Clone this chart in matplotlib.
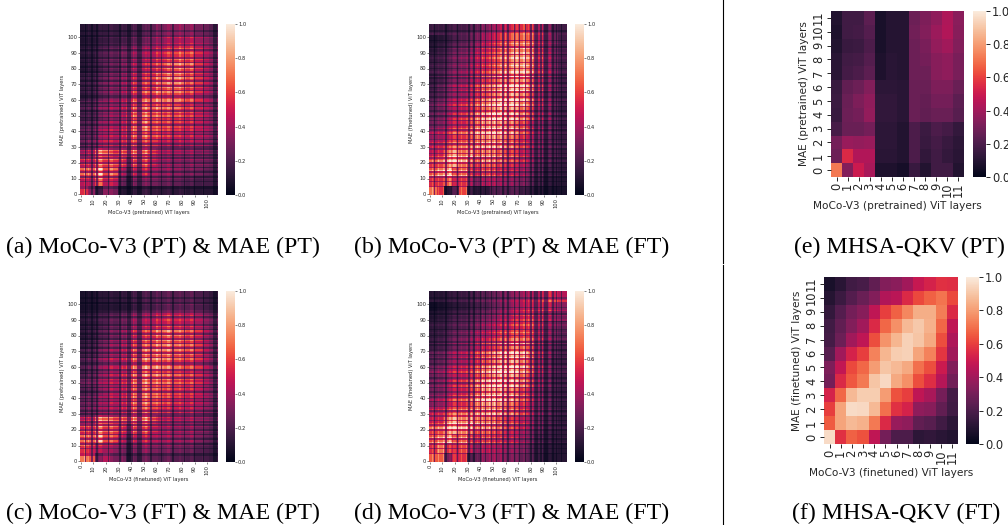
import numpy as np
import matplotlib
matplotlib.use("Agg")
import matplotlib.pyplot as plt
from matplotlib.lines import Line2D
import seaborn as sns

# 12 x 12 layer similarity, row 0 (bottom) first
qkv_pt = [
 [.72,.33,.50,.42,.08,.08,.06,.15,.09,.17,.17,.09],
 [.28,.55,.44,.44,.11,.11,.09,.20,.13,.17,.14,.11],
 [.30,.38,.37,.38,.12,.12,.09,.20,.15,.18,.15,.12],
 [.19,.27,.27,.30,.12,.12,.09,.20,.16,.20,.18,.14],
 [.15,.28,.30,.37,.13,.13,.11,.27,.25,.27,.27,.23],
 [.16,.27,.32,.36,.13,.13,.11,.27,.26,.30,.30,.24],
 [.15,.25,.28,.33,.12,.12,.11,.27,.27,.32,.32,.27],
 [.11,.18,.20,.24,.08,.11,.10,.28,.28,.34,.36,.31],
 [.11,.17,.18,.22,.08,.11,.10,.28,.30,.34,.36,.31],
 [.09,.15,.16,.20,.07,.10,.10,.28,.31,.37,.40,.33],
 [.08,.17,.18,.22,.07,.10,.10,.29,.33,.39,.44,.34],
 [.09,.17,.17,.24,.07,.10,.10,.28,.32,.36,.43,.35]]
qkv_ft = [
 [.96,.57,.67,.64,.47,.30,.20,.20,.12,.13,.11,.09],
 [.66,.82,.87,.85,.72,.55,.38,.36,.25,.23,.17,.12],
 [.60,.82,.96,.95,.87,.70,.57,.53,.36,.34,.25,.17],
 [.53,.68,.87,.92,.92,.80,.64,.60,.47,.42,.30,.18],
 [.30,.55,.65,.72,.90,.95,.83,.77,.63,.56,.45,.29],
 [.32,.48,.62,.68,.80,.90,.87,.83,.70,.63,.50,.33],
 [.23,.40,.53,.60,.74,.86,.92,.93,.82,.74,.58,.40],
 [.18,.28,.40,.47,.63,.78,.86,.93,.90,.83,.63,.43],
 [.17,.25,.33,.40,.55,.68,.77,.87,.91,.85,.68,.47],
 [.14,.22,.30,.34,.47,.60,.67,.75,.84,.84,.73,.55],
 [.10,.16,.22,.27,.33,.44,.46,.55,.62,.67,.71,.62],
 [.07,.11,.17,.19,.25,.33,.35,.40,.49,.53,.57,.56]]

# all-layer similarity, read as 18 x 18 blocks, bottom row first
all_a = [
 [.55,.35,.15,.35,.30,.10,.08,.13,.15,.13,.12,.13,.12,.13,.10,.10,.10,.10],
 [.45,.42,.60,.45,.45,.25,.15,.30,.30,.30,.25,.25,.25,.22,.20,.18,.18,.18],
 [.55,.55,.70,.50,.55,.35,.25,.40,.42,.35,.30,.30,.30,.27,.25,.25,.22,.20],
 [.45,.45,.60,.55,.55,.50,.40,.55,.55,.45,.35,.33,.33,.30,.30,.30,.28,.25],
 [.35,.40,.62,.62,.50,.55,.55,.62,.60,.50,.38,.35,.37,.33,.33,.30,.30,.25],
 [.22,.27,.33,.42,.38,.42,.50,.52,.50,.47,.40,.38,.38,.38,.35,.35,.33,.28],
 [.20,.22,.30,.38,.37,.40,.50,.57,.58,.52,.50,.45,.45,.42,.40,.38,.35,.30],
 [.18,.20,.27,.33,.33,.37,.48,.55,.60,.52,.50,.48,.48,.45,.42,.40,.35,.30],
 [.15,.17,.22,.30,.30,.35,.48,.58,.60,.55,.55,.50,.52,.50,.45,.42,.37,.30],
 [.18,.20,.27,.32,.33,.38,.48,.57,.60,.57,.60,.55,.60,.50,.47,.42,.38,.32],
 [.12,.15,.20,.27,.28,.33,.42,.50,.55,.55,.60,.55,.60,.55,.50,.45,.38,.32],
 [.13,.15,.20,.27,.27,.32,.40,.47,.50,.50,.57,.58,.63,.58,.50,.47,.40,.33],
 [.12,.14,.18,.25,.25,.30,.37,.43,.47,.50,.57,.60,.65,.60,.52,.47,.40,.33],
 [.09,.12,.15,.22,.22,.27,.33,.38,.42,.47,.50,.55,.62,.60,.55,.47,.40,.33],
 [.10,.12,.17,.22,.22,.27,.30,.35,.38,.42,.47,.50,.55,.57,.52,.47,.40,.33],
 [.10,.12,.15,.20,.20,.25,.27,.33,.35,.38,.43,.47,.50,.52,.50,.45,.38,.32],
 [.08,.10,.12,.15,.15,.17,.20,.23,.25,.30,.33,.38,.40,.40,.40,.37,.33,.27],
 [.10,.12,.13,.15,.15,.15,.17,.20,.22,.25,.30,.33,.35,.35,.33,.30,.27,.22]]
all_b = [
 [.70,.55,.10,.20,.60,.15,.10,.12,.20,.20,.20,.20,.15,.12,.10,.07,.07,.07],
 [.55,.55,.65,.45,.55,.40,.30,.42,.42,.38,.35,.30,.30,.22,.18,.12,.12,.10],
 [.62,.70,.80,.55,.65,.50,.45,.55,.52,.45,.42,.38,.35,.27,.22,.15,.15,.12],
 [.55,.60,.72,.75,.68,.60,.55,.65,.62,.55,.50,.45,.42,.32,.25,.20,.17,.14],
 [.45,.50,.68,.75,.68,.75,.65,.72,.70,.62,.55,.50,.45,.35,.30,.22,.20,.15],
 [.40,.42,.50,.55,.58,.60,.65,.70,.72,.65,.58,.50,.47,.37,.30,.22,.20,.15],
 [.35,.38,.45,.52,.55,.60,.70,.75,.78,.72,.65,.58,.52,.40,.33,.25,.20,.15],
 [.28,.32,.40,.47,.50,.58,.68,.77,.80,.75,.70,.62,.58,.42,.35,.27,.22,.15],
 [.22,.25,.33,.40,.45,.52,.62,.72,.80,.78,.72,.65,.60,.47,.37,.30,.22,.15],
 [.22,.27,.35,.40,.45,.50,.58,.68,.75,.80,.77,.72,.67,.52,.40,.30,.22,.15],
 [.18,.22,.30,.35,.38,.45,.52,.62,.70,.75,.78,.75,.72,.55,.42,.30,.22,.17],
 [.15,.20,.27,.33,.37,.42,.50,.60,.65,.72,.78,.78,.75,.58,.45,.32,.25,.17],
 [.15,.18,.25,.30,.33,.40,.45,.55,.62,.68,.72,.75,.75,.60,.47,.35,.27,.18],
 [.15,.17,.22,.27,.30,.37,.42,.50,.57,.62,.67,.72,.75,.62,.48,.35,.27,.18],
 [.13,.15,.20,.25,.28,.33,.40,.48,.55,.60,.65,.70,.72,.62,.47,.35,.25,.18],
 [.10,.13,.17,.22,.25,.30,.37,.45,.50,.55,.60,.65,.68,.60,.45,.33,.25,.18],
 [.08,.10,.13,.17,.20,.25,.30,.40,.47,.52,.58,.62,.65,.60,.45,.33,.27,.18],
 [.15,.15,.15,.17,.18,.22,.25,.32,.38,.42,.47,.50,.55,.52,.42,.30,.22,.17]]
all_c = [
 [.72,.65,.30,.45,.30,.30,.15,.25,.27,.25,.22,.25,.22,.22,.20,.18,.18,.15],
 [.55,.50,.42,.40,.35,.30,.18,.32,.35,.32,.28,.30,.28,.27,.25,.22,.20,.17],
 [.55,.55,.65,.50,.50,.37,.25,.40,.42,.37,.33,.33,.32,.30,.30,.27,.23,.20],
 [.50,.50,.62,.55,.55,.48,.40,.55,.55,.45,.38,.36,.35,.33,.33,.30,.27,.22],
 [.40,.42,.62,.65,.55,.55,.57,.65,.65,.55,.42,.38,.38,.35,.35,.32,.30,.25],
 [.23,.27,.30,.35,.35,.40,.47,.55,.55,.50,.45,.42,.40,.40,.38,.35,.30,.27],
 [.22,.25,.30,.35,.37,.40,.50,.58,.60,.55,.52,.47,.45,.43,.40,.38,.33,.28],
 [.17,.20,.25,.33,.35,.38,.47,.55,.58,.55,.52,.48,.47,.45,.42,.40,.33,.28],
 [.22,.25,.30,.37,.38,.42,.50,.60,.63,.58,.58,.55,.53,.50,.48,.45,.37,.30],
 [.17,.22,.27,.35,.37,.42,.50,.60,.65,.60,.60,.55,.55,.50,.48,.45,.37,.30],
 [.18,.22,.27,.35,.37,.40,.50,.58,.63,.62,.62,.57,.55,.52,.50,.47,.38,.30],
 [.15,.18,.23,.30,.32,.37,.45,.55,.60,.60,.62,.60,.58,.55,.52,.48,.38,.30],
 [.12,.15,.20,.27,.30,.35,.42,.50,.55,.55,.60,.60,.58,.55,.52,.48,.38,.30],
 [.10,.13,.17,.22,.25,.30,.37,.45,.50,.52,.58,.60,.58,.55,.50,.47,.37,.30],
 [.10,.12,.15,.20,.22,.25,.30,.37,.40,.42,.47,.48,.47,.45,.42,.40,.33,.27],
 [.10,.12,.15,.18,.20,.23,.27,.33,.35,.37,.42,.45,.43,.42,.40,.37,.30,.25],
 [.06,.07,.08,.09,.09,.10,.12,.15,.17,.18,.20,.22,.22,.22,.22,.20,.17,.14],
 [.07,.08,.10,.12,.12,.13,.15,.18,.20,.20,.22,.23,.23,.22,.22,.20,.17,.14]]
all_d = [
 [.65,.65,.30,.50,.55,.20,.25,.35,.38,.35,.30,.28,.25,.20,.15,.10,.10,.10],
 [.55,.70,.55,.50,.60,.45,.35,.45,.42,.40,.35,.32,.30,.22,.17,.12,.12,.10],
 [.60,.68,.75,.55,.65,.52,.47,.55,.50,.47,.42,.38,.33,.27,.20,.15,.13,.12],
 [.58,.62,.75,.75,.72,.68,.60,.65,.60,.55,.47,.42,.38,.30,.25,.17,.15,.13],
 [.48,.50,.72,.78,.72,.78,.70,.70,.68,.60,.52,.47,.43,.35,.28,.20,.17,.13],
 [.40,.42,.50,.55,.57,.60,.65,.70,.72,.65,.58,.52,.47,.37,.30,.22,.17,.14],
 [.32,.35,.42,.50,.52,.58,.70,.78,.80,.72,.65,.57,.52,.40,.32,.22,.17,.14],
 [.28,.30,.38,.45,.48,.55,.65,.78,.80,.78,.70,.62,.55,.42,.33,.23,.18,.15],
 [.25,.28,.35,.42,.45,.52,.62,.72,.78,.78,.72,.65,.60,.45,.35,.25,.18,.15],
 [.27,.30,.37,.42,.45,.50,.58,.68,.75,.80,.77,.72,.65,.50,.38,.27,.20,.17],
 [.22,.25,.32,.37,.40,.45,.52,.62,.70,.75,.78,.75,.70,.52,.40,.28,.20,.17],
 [.20,.22,.28,.33,.37,.42,.50,.58,.65,.70,.75,.75,.72,.55,.42,.30,.22,.17],
 [.15,.18,.22,.27,.30,.35,.42,.50,.55,.60,.65,.68,.65,.55,.42,.30,.25,.20],
 [.12,.14,.18,.22,.25,.30,.35,.40,.45,.50,.52,.55,.55,.50,.42,.32,.27,.22],
 [.12,.13,.15,.18,.20,.23,.27,.33,.37,.40,.43,.47,.50,.50,.42,.33,.30,.25],
 [.08,.10,.12,.15,.17,.20,.22,.27,.30,.35,.37,.42,.45,.47,.43,.37,.33,.30],
 [.04,.06,.08,.10,.12,.15,.17,.20,.25,.28,.32,.37,.42,.45,.47,.45,.42,.35],
 [.10,.10,.12,.13,.15,.17,.20,.22,.25,.28,.30,.33,.37,.40,.45,.50,.50,.45]]

# layers that stand out as dark or bright stripes
dark_cols_pt = [4, 9, 13, 22, 31, 37, 38, 39, 45, 46, 47, 48, 55, 56, 64, 73, 82, 90, 97, 105, 106, 107]
bright_cols_pt = [3, 6, 15, 16, 24, 25, 33, 42, 51, 52, 60, 61, 69, 70, 78, 79, 87, 88, 96]
dark_cols_ft = [4, 13, 22, 31, 35, 40, 44, 49, 53, 58, 62, 67, 71, 76, 80, 83, 84, 85, 88, 91, 92, 93, 97, 98, 100, 104]
bright_cols_ft = [2, 7, 11, 16, 19, 20, 25, 29, 33, 38, 42, 47, 51, 56, 57, 60, 65, 66, 69, 74, 75, 78, 81, 89, 95]
dark_rows_pt = [4, 5, 8, 11, 14, 17, 20, 23, 25, 29, 30, 32, 35, 38, 40, 44, 47, 49, 53, 56, 58, 62, 63, 66, 69, 72, 75, 78, 81, 84, 87, 92, 95, 101, 104]
bright_rows_pt = [10, 13, 16, 19, 22, 26, 28, 31, 34, 37, 41, 43, 46, 50, 52, 55, 59, 60, 65, 68, 71, 74, 77, 80, 83, 86, 90, 93, 96, 100]
dark_rows_ft = [5, 8, 11, 14, 17, 20, 23, 26, 29, 32, 35, 38, 41, 44, 47, 50, 53, 56, 59, 62, 65, 68, 71, 74, 76, 80, 84, 89, 94, 98, 104]
bright_rows_ft = [12, 15, 21, 24, 30, 33, 39, 42, 48, 51, 57, 60, 66, 69, 75, 78, 82, 87, 90, 93, 96, 102]

layer_ticks = list(range(0, 101, 10))
colorbar_ticks = [0, .2, .4, .6, .8, 1.0]
captions = ["(a) MoCo-V3 (PT) & MAE (PT)", "(b) MoCo-V3 (PT) & MAE (FT)",
            "(c) MoCo-V3 (FT) & MAE (PT)", "(d) MoCo-V3 (FT) & MAE (FT)",
            "(e) MHSA-QKV (PT)", "(f) MHSA-QKV (FT)"]

W, H = 1008, 525
cmap = sns.color_palette("rocket", as_cmap=True)
fig = plt.figure(figsize=(W / 100, H / 100), dpi=100)


def rect(x0, y0, x1, y1):
    return [x0 / W, 1 - y1 / H, (x1 - x0) / W, (y1 - y0) / H]


def expand(blocks, drows, brows, dcols, bcols):
    m = np.repeat(np.array(blocks), 6, axis=0)
    m = np.repeat(m, 6, axis=1)
    m = np.pad(m, ((0, 1), (0, 1)), mode="edge")
    for r in drows:
        m[r, :] *= .66
    for r in brows:
        m[r, :] *= 1.25
    for c in dcols:
        m[:, c] *= .5
    for c in bcols:
        m[:, c] *= 1.18
    return np.clip(m, 0, 1)


def panel(matrix, box, cbox, xlabel, ylabel, ticks, ticklabels, fs, lfs, yrot, lw, tl, lpad):
    ax = fig.add_axes(rect(*box))
    n = matrix.shape[0]
    mesh = ax.imshow(matrix, cmap=cmap, vmin=0, vmax=1, origin="lower", aspect="auto",
                     extent=(0, n, 0, n), interpolation="nearest")
    pos = [t + .5 for t in ticks]
    ax.set_xticks(pos, ticklabels, rotation=90)
    ax.set_yticks(pos, ticklabels, rotation=yrot, va="center")
    ax.tick_params(labelsize=fs, width=lw, length=tl, pad=lpad, colors="#262626")
    ax.set_xlabel(xlabel, fontsize=lfs, labelpad=lpad * 1.5, color="#262626")
    ax.set_ylabel(ylabel, fontsize=lfs, labelpad=lpad * 1.5, color="#262626")
    for s in ax.spines.values():
        s.set_visible(False)
    cax = fig.add_axes(rect(*cbox))
    cb = fig.colorbar(mesh, cax=cax, ticks=colorbar_ticks)
    cb.ax.tick_params(labelsize=fs, width=lw, length=tl, pad=lpad, colors="#262626")
    cb.outline.set_visible(False)


small = dict(ticks=layer_ticks, ticklabels=[str(t) for t in layer_ticks],
             fs=3.7, lfs=3.7, yrot=0, lw=.4, tl=1.3, lpad=.8)
panel(expand(all_a, dark_rows_pt, bright_rows_pt, dark_cols_pt, bright_cols_pt),
      (80, 24, 218, 195), (226, 24, 235, 195),
      "MoCo-V3 (pretrained) ViT layers", "MAE (pretrained) ViT layers", **small)
panel(expand(all_b, dark_rows_ft, bright_rows_ft, dark_cols_ft, bright_cols_ft),
      (429, 24, 567, 195), (575, 24, 584, 195),
      "MoCo-V3 (pretrained) ViT layers", "MAE (finetuned) ViT layers", **small)
panel(expand(all_c, dark_rows_pt, bright_rows_pt, dark_cols_pt, bright_cols_pt),
      (80, 291, 218, 462), (226, 291, 235, 462),
      "MoCo-V3 (finetuned) ViT layers", "MAE (pretrained) ViT layers", **small)
panel(expand(all_d, dark_rows_ft, bright_rows_ft, dark_cols_ft, bright_cols_ft),
      (429, 291, 567, 462), (575, 291, 584, 462),
      "MoCo-V3 (finetuned) ViT layers", "MAE (finetuned) ViT layers", **small)

big = dict(ticks=list(range(12)), ticklabels=[str(i) for i in range(12)],
           fs=8.3, lfs=7.6, yrot=90, lw=.7, tl=2.6, lpad=1.6)
panel(np.array(qkv_pt), (831, 11, 964, 177), (973, 11, 986, 177),
      "MoCo-V3 (pretrained) ViT layers", "MAE (pretrained) ViT layers", **big)
panel(np.array(qkv_ft), (824, 277, 958, 444), (966, 277, 979, 444),
      "MoCo-V3 (finetuned) ViT layers", "MAE (finetuned) ViT layers", **big)

cap_pos = [(163, 247), (512, 247), (163, 513), (512, 513), (899, 247), (896, 513)]
for (x, y), c in zip(cap_pos, captions):
    fig.text(x / W, 1 - y / H, c, family="Liberation Serif", fontsize=17.2,
             ha="center", va="center", color="black")

fig.add_artist(Line2D([722.5 / W, 722.5 / W], [1, 1 - 262.5 / H], color="black", lw=.8))
fig.add_artist(Line2D([722.5 / W, 722.5 / W], [1 - 264.5 / H, 0], color="black", lw=.8))

fig.savefig("out.png", dpi=100)
